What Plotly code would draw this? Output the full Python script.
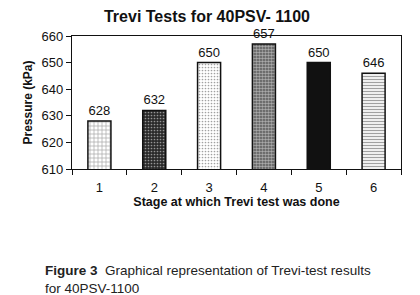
import plotly.graph_objects as go

stages = ["1", "2", "3", "4", "5", "6"]
pressure = [628, 632, 650, 657, 650, 646]
labels = ["628", "632", "650", "657", "650", "646"]
y_ticks = [610, 620, 630, 640, 650, 660]

shapes = ["+", ".", ".", ".", "", "-"]
fg = ["#111111", "#ffffff", "#999999", "#111111", "#111111", "#111111"]
bg = ["#ffffff", "#2a2a2a", "#ffffff", "#555555", "#111111", "#ffffff"]
sizes = [4, 3, 3, 3, 3, 3]
solid = [0.3, 0.25, 0.25, 0.55, 0.3, 0.45]
colors = ["#ffffff", "#2a2a2a", "#ffffff", "#555555", "#111111", "#ffffff"]

font_family = "Liberation Sans, Arial, sans-serif"

# the page body adds an 8px margin; figure coordinates = page coordinates - 8
OFF = 8
W, H = 420 - OFF, 295 - OFF
L, T = 72 - OFF, 36 - OFF
R = 19
B = H - (169 - OFF)
pw = W - L - R
ph = H - T - B

fig = go.Figure(go.Bar(
    x=stages, y=pressure,
    text=labels, textposition="outside", cliponaxis=False,
    textfont=dict(size=13, color="#111", family=font_family),
    width=0.42,
    marker=dict(color=colors, line=dict(color="#111", width=1.5),
                pattern=dict(shape=shapes, fgcolor=fg, bgcolor=bg,
                             size=sizes, solidity=solid)),
))

fig.update_layout(
    width=W, height=H,
    margin=dict(l=L, r=R, t=T, b=B),
    paper_bgcolor="white", plot_bgcolor="white",
    showlegend=False,
    font=dict(family=font_family, color="#111"),
    title=dict(text="<b>Trevi Tests for 40PSV- 1100</b>", x=(207 - OFF) / W, xanchor="center",
               y=1 - (16 - OFF) / H, yanchor="middle", font=dict(size=16, color="#111")),
    xaxis=dict(type="category", showline=True, linecolor="#111", linewidth=1.2,
               mirror=True, ticks="outside", tickson="boundaries", ticklen=5,
               tickcolor="#111", tickfont=dict(size=13), automargin=False,
               ticklabelstandoff=6,
               title=dict(text="<b>Stage at which Trevi test was done</b>",
                          font=dict(size=12.5), standoff=2)),
    yaxis=dict(range=[610, 660], tickvals=y_ticks,
               ticktext=[str(v) for v in y_ticks],
               showline=True, linecolor="#111", linewidth=1.2, mirror=True,
               ticks="outside", ticklen=5, tickcolor="#111", showgrid=False,
               zeroline=False, tickfont=dict(size=13), automargin=False,
               title=dict(text="<b>Pressure (kPa)</b>", font=dict(size=12), standoff=6)),
    annotations=[
        dict(text="<b>Figure 3</b>  Graphical representation of Trevi-test results<br>for 40PSV-1100",
             xref="paper", yref="paper", x=(43 - OFF - L) / pw, y=(H - B - (279 - OFF)) / ph,
             showarrow=False, align="left", xanchor="left", yanchor="middle",
             font=dict(size=13.5, color="#222", family=font_family)),
    ],
)

fig.write_html("out.html")
